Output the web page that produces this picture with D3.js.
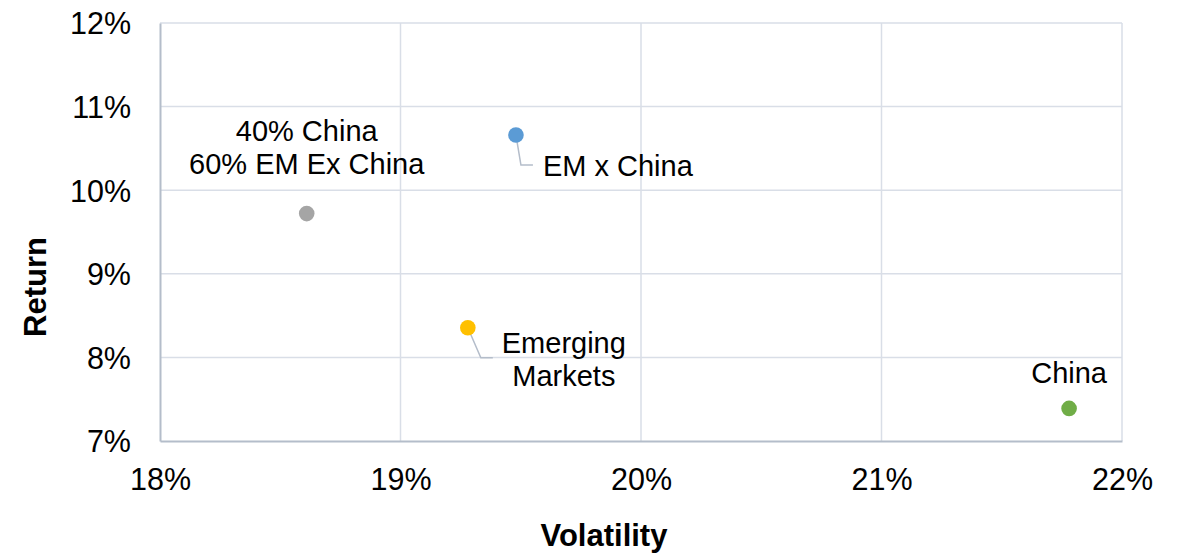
<!DOCTYPE html>
<html>
<head>
<meta charset="utf-8">
<script src="https://cdn.jsdelivr.net/npm/d3@7"></script>
<style>
  html, body { margin: 0; padding: 0; background: #fff; }
  svg { display: block; font-family: "Liberation Sans", Arial, sans-serif; }
</style>
</head>
<body>
<svg id="chart" width="1178" height="556"></svg>
<script>
// ---- data ----
const names = ["40% China\n60% EM Ex China", "EM x China", "Emerging\nMarkets", "China"];
const volatility = [18.61, 19.48, 19.28, 21.78];
const returns = [9.72, 10.66, 8.355, 7.39];
const colors = ["#a5a5a5", "#5b9bd5", "#ffc000", "#70ad47"];
const xTicks = [18, 19, 20, 21, 22];
const yTicks = [7, 8, 9, 10, 11, 12];
const xTitle = "Volatility";
const yTitle = "Return";

// ---- layout (label placement relative to points, in px) ----
const labelLayout = [
  { dx: 0, dy: -73, anchor: "middle", leader: null },
  { dx: 27, dy: 41, anchor: "start", leader: [[0, 0], [5, 30], [17, 30]] },
  { dx: 96, dy: 25, anchor: "middle", leader: [[0, 0], [13, 30], [25, 30]] },
  { dx: 0, dy: -25, anchor: "middle", leader: null }
];

const svg = d3.select("#chart");
const m = { left: 160, right: 1122, top: 23, bottom: 441 };

const x = d3.scaleLinear().domain([18, 22]).range([m.left, m.right]);
const y = d3.scaleLinear().domain([7, 12]).range([m.bottom, m.top]);

const gridColor = "#d9dee7";
const axisColor = "#b4bdca";

// gridlines
svg.append("g").selectAll("line.v").data(xTicks.slice(1)).join("line")
  .attr("x1", d => x(d)).attr("x2", d => x(d))
  .attr("y1", m.top).attr("y2", m.bottom)
  .attr("stroke", gridColor).attr("stroke-width", 1.5);
svg.append("g").selectAll("line.h").data(yTicks.slice(1)).join("line")
  .attr("x1", m.left).attr("x2", m.right)
  .attr("y1", d => y(d)).attr("y2", d => y(d))
  .attr("stroke", gridColor).attr("stroke-width", 1.5);

// axes
const xAxis = d3.axisBottom(x).tickValues(xTicks).tickFormat(d => d + "%").tickSize(0).tickPadding(36);
const yAxis = d3.axisLeft(y).tickValues(yTicks).tickFormat(d => d + "%").tickSize(0).tickPadding(29);

const gx = svg.append("g").attr("transform", `translate(0,${m.bottom})`).call(xAxis);
const gy = svg.append("g").attr("transform", `translate(${m.left},0)`).call(yAxis);
[gx, gy].forEach(g => {
  g.select(".domain").attr("stroke", axisColor).attr("stroke-width", 2);
  g.selectAll("text").attr("font-size", 30.5).attr("fill", "#000")
    .attr("font-family", "'Liberation Sans', Arial, sans-serif");
});
gx.selectAll("text").attr("dy", 0).attr("y", 49);
gy.selectAll("text").attr("dy", "0.36em");

// axis titles
svg.append("text").attr("x", 604).attr("y", 546).attr("text-anchor", "middle")
  .attr("font-size", 31).attr("font-weight", "bold").text(xTitle);
svg.append("text").attr("transform", "translate(46,287) rotate(-90)").attr("text-anchor", "middle")
  .attr("font-size", 31).attr("font-weight", "bold").text(yTitle);

const pts = names.map((n, i) => ({ name: n, vx: volatility[i], ry: returns[i], color: colors[i], lay: labelLayout[i] }));

// leader lines
svg.append("g").selectAll("polyline").data(pts.filter(p => p.lay.leader)).join("polyline")
  .attr("points", p => p.lay.leader.map(([a, b]) => `${x(p.vx) + a},${y(p.ry) + b}`).join(" "))
  .attr("fill", "none").attr("stroke", "#b4bdca").attr("stroke-width", 1.5);

// points
svg.append("g").selectAll("circle").data(pts).join("circle")
  .attr("cx", p => x(p.vx)).attr("cy", p => y(p.ry)).attr("r", 7.8)
  .attr("fill", p => p.color);

// labels
const lab = svg.append("g").selectAll("text").data(pts).join("text")
  .attr("x", p => x(p.vx) + p.lay.dx)
  .attr("y", p => y(p.ry) + p.lay.dy)
  .attr("text-anchor", p => p.lay.anchor)
  .attr("font-size", 29).attr("fill", "#000");
lab.each(function (p) {
  const lines = p.name.split("\n");
  const t = d3.select(this);
  lines.forEach((l, i) => {
    t.append("tspan").attr("x", x(p.vx) + p.lay.dx).attr("dy", i === 0 ? 0 : 33).text(l);
  });
});
</script>
</body>
</html>
